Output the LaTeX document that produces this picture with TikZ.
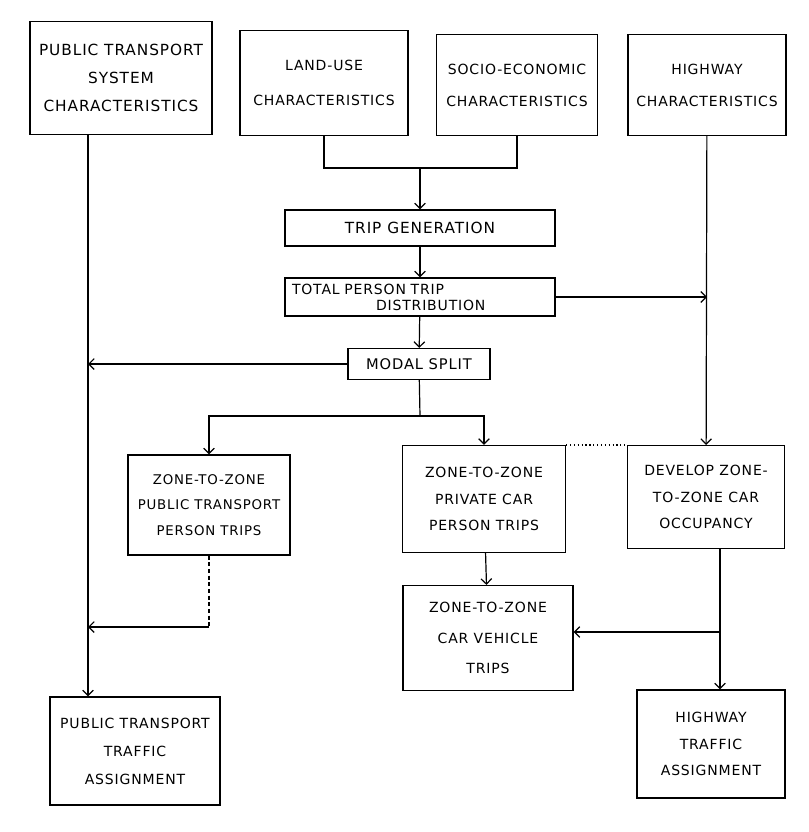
\documentclass[tikz,border=0pt]{standalone}
\usepackage{fontspec}
\setsansfont{DejaVu Sans}[LetterSpace=6]
\usetikzlibrary{arrows.meta}
\usetikzlibrary{calc}
\usetikzlibrary{positioning}

\begin{document}
\begin{tikzpicture}[
		x=0.75pt,
		y=-0.75pt,
		/utils/exec={\sffamily},
		font=\fontsize{10.5pt}{20pt}\selectfont,
		>={Straight Barb[length=4pt,width=8pt]},
		line width=0.9pt
	]
		\tikzset{stage/.style={
			draw,
			rectangle,
			align=center,
			inner sep=1,
		}}
		\tikzset{size/.style 2 args={
			minimum width={#1*0.75pt},
			minimum height={#2*0.75pt},
		}}

		\useasboundingbox (0,0) rectangle (808,832);

		% inputs
		\node[stage, size={182}{113}, font=\fontsize{11.5pt}{21pt}\selectfont] (ptc) at (121,78) {PUBLIC TRANSPORT\\SYSTEM\\CHARACTERISTICS};
		\node[stage, size={168}{105}, font=\fontsize{10.5pt}{26pt}\selectfont] (luc) at (324,83) {LAND-USE\\CHARACTERISTICS};
		\node[stage, size={161}{101}, font=\fontsize{10.5pt}{24pt}\selectfont] (sec) at (517,85) {SOCIO-ECONOMIC\\CHARACTERISTICS};
		\node[stage, size={158}{101}, font=\fontsize{10.5pt}{24pt}\selectfont] (hwc) at (707,85) {HIGHWAY\\CHARACTERISTICS};

		% main chain
		\node[stage, size={270}{36}, font=\fontsize{11.5pt}{14pt}\selectfont] (tg) at (420,228) {TRIP GENERATION};
		\node[stage, size={270}{38}, align=left, text width={256*0.75pt}, font=\fontsize{10.5pt}{12pt}\selectfont] (tpd) at (420,297) {TOTAL PERSON TRIP\\\hspace*{6em}DISTRIBUTION};
		\node[stage, size={142}{31}, font=\fontsize{11pt}{14pt}\selectfont] (ms) at (419,364) {MODAL SPLIT};

		% zone-to-zone trips
		\node[stage, size={162}{100}, font=\fontsize{10pt}{19pt}\selectfont] (zpt) at (209,505) {ZONE-TO-ZONE\\PUBLIC TRANSPORT\\PERSON TRIPS};
		\node[stage, size={163}{107}] (zpc) at (484,499) {ZONE-TO-ZONE\\PRIVATE CAR\\PERSON TRIPS};
		\node[stage, size={157}{103}] (dev) at (706,497) {DEVELOP ZONE-\\TO-ZONE CAR\\OCCUPANCY};
		\node[stage, size={170}{105}, font=\fontsize{10.5pt}{23pt}\selectfont] (zcv) at (488,638) {ZONE-TO-ZONE\\CAR VEHICLE\\TRIPS};

		% assignment
		\node[stage, size={170}{108}, font=\fontsize{10.5pt}{21pt}\selectfont] (pta) at (135,751) {PUBLIC TRANSPORT\\TRAFFIC\\ASSIGNMENT};
		\node[stage, size={148}{108}] (hta) at (711,744) {HIGHWAY\\TRAFFIC\\ASSIGNMENT};

		% junctions
		\coordinate (join) at (420,168);
		\coordinate (split) at (420,416);
		\coordinate (ptl) at (88,0);
		\coordinate (back) at (209,627);
		\coordinate (hwl) at (720,632);

		\draw (luc.south) |- (join) -| (sec.south);
		\draw[->] (join) -- (tg);
		\draw[->] (tg) -- (tpd);
		\draw[->] (tpd) -- (ms);
		\draw[->] (tpd.east) -- (tpd.east -| hwc);
		\draw[->] (hwc) -- (dev);
		\draw[->] (ptc.south -| ptl) -- (pta.north -| ptl);
		\draw[->] (ms.west) -- (ms.west -| ptl);
		\draw (ms) -- (split);
		\draw[->] (split) -| (zpt.north);
		\draw[->] (split) -| (zpc.north);
		\draw[dotted] (zpc.north east) -- (dev.north west);
		\draw[densely dashed] (zpt.south) -- (back);
		\draw[->] (back) -- (back -| ptl);
		\draw[->] (zpc) -- (zcv);
		\draw[->] (dev.south -| hwl) -- (hta.north -| hwl);
		\draw[->] (hwl) -- (zcv.east |- hwl);
	\end{tikzpicture}
\end{document}
